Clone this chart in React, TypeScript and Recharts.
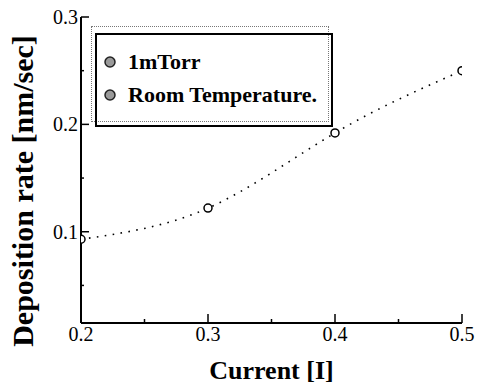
import {
  Legend,
  Line,
  LineChart,
  XAxis,
  YAxis,
} from "recharts";

const currents = [0.2, 0.3, 0.4, 0.5];
const depositionRates = [0.093, 0.122, 0.192, 0.25];

const xTicks = [0.2, 0.25, 0.3, 0.35, 0.4, 0.45, 0.5];
const xTickLabels = ["0.2", "0.3", "0.4", "0.5"];
const yTicks = [0.05, 0.1, 0.15, 0.2, 0.25, 0.3];
const yTickLabels = ["0.1", "0.2", "0.3"];

const legendItems = ["1mTorr", "Room Temperature."];

const FONT = "'Liberation Serif', 'Times New Roman', 'DejaVu Serif', serif";

const datos = currents.map((current, i) => ({
  current,
  rate: depositionRates[i],
}));

const labelFor = (value: number, labels: string[]) =>
  labels.find((l) => Math.abs(parseFloat(l) - value) < 1e-6);

const tickText = { fontFamily: FONT, fontSize: 20, fill: "#000" };

const BottomTick = ({ x, y, payload }: any) => {
  const label = labelFor(payload.value, xTickLabels);
  return (
    <g>
      <line x1={x} y1={y} x2={x} y2={y - (label ? 9 : 4)} stroke="#000" strokeWidth={1.5} />
      {label && (
        <text x={x} y={y + 4} dy="0.71em" textAnchor="middle" style={tickText}>
          {label}
        </text>
      )}
    </g>
  );
};

const TopTick = ({ x, y, payload }: any) => {
  const label = labelFor(payload.value, xTickLabels);
  return <line x1={x} y1={y} x2={x} y2={y + (label ? 9 : 4)} stroke="#000" strokeWidth={1.5} />;
};

const LeftTick = ({ x, y, payload }: any) => {
  const label = labelFor(payload.value, yTickLabels);
  return (
    <g>
      <line x1={x} y1={y} x2={x + (label ? 8 : 3)} y2={y} stroke="#000" strokeWidth={1.5} />
      {label && (
        <text x={x - 3} y={y} dy="0.35em" textAnchor="end" style={tickText}>
          {label}
        </text>
      )}
    </g>
  );
};

const RightTick = ({ x, y, payload }: any) => {
  const label = labelFor(payload.value, yTickLabels);
  return <line x1={x} y1={y} x2={x - (label ? 8 : 3)} y2={y} stroke="#000" strokeWidth={1.5} />;
};

const YLabel = ({ viewBox }: any) => {
  const cx = viewBox.x + 33;
  const cy = viewBox.y + viewBox.height / 2 + 21;
  return (
    <text
      x={cx}
      y={cy}
      transform={`rotate(-90, ${cx}, ${cy})`}
      textAnchor="middle"
      style={{ fontFamily: FONT, fontSize: 30, fontWeight: "bold", fill: "#000" }}
    >
      Deposition rate [nm/sec]
    </text>
  );
};

const XLabel = ({ viewBox }: any) => {
  const cx = viewBox.x + viewBox.width / 2;
  const cy = viewBox.y + viewBox.height - 12;
  return (
    <text
      x={cx}
      y={cy}
      textAnchor="middle"
      style={{ fontFamily: FONT, fontSize: 26, fontWeight: "bold", fill: "#000" }}
    >
      Current [I]
    </text>
  );
};

const CajaLeyenda = () => (
  <div style={{ position: "relative", width: 242, height: 101, fontFamily: FONT }}>
    <div
      style={{
        position: "absolute",
        left: 0,
        top: 0,
        width: 236,
        height: 94,
        border: "1px dotted #777",
        background: "#fff",
      }}
    />
    <div
      style={{
        position: "absolute",
        left: 4,
        top: 7,
        width: 234,
        height: 90,
        border: "2.5px solid #000",
      }}
    />
    {legendItems.map((item, i) => (
      <div
        key={item}
        style={{
          position: "absolute",
          left: 12,
          top: 24 + i * 33,
          height: 24,
          display: "flex",
          alignItems: "center",
          whiteSpace: "nowrap",
        }}
      >
        <svg width={14} height={14} style={{ marginRight: 11 }}>
          <circle cx={7} cy={7} r={5} fill="#9a9a9a" stroke="#222" strokeWidth={1.5} />
        </svg>
        <span style={{ fontSize: 22, fontWeight: "bold", color: "#000" }}>{item}</span>
      </div>
    ))}
  </div>
);

export default function App() {
  return (
    <div style={{ position: "absolute", left: 0, top: 0, background: "#fff" }}>
      <LineChart
        width={484}
        height={391}
        data={datos}
        margin={{ top: 17, right: 22, bottom: 0, left: 0 }}
      >
        <XAxis
          dataKey="current"
          type="number"
          domain={[0.2, 0.5]}
          ticks={xTicks}
          interval={0}
          height={68}
          tickSize={0}
          tickMargin={0}
          tickLine={false}
          axisLine={{ stroke: "#000", strokeWidth: 2 }}
          tick={<BottomTick />}
          allowDataOverflow
          label={<XLabel />}
        />
        <XAxis
          xAxisId="top"
          orientation="top"
          dataKey="current"
          type="number"
          domain={[0.2, 0.5]}
          ticks={xTicks}
          interval={0}
          height={0}
          tickSize={0}
          tickMargin={0}
          tickLine={false}
          axisLine={{ stroke: "#000", strokeWidth: 2 }}
          tick={<TopTick />}
          allowDataOverflow
        />
        <YAxis
          type="number"
          domain={[0.015, 0.3]}
          ticks={yTicks}
          interval={0}
          width={81}
          tickSize={0}
          tickMargin={0}
          tickLine={false}
          axisLine={{ stroke: "#000", strokeWidth: 2 }}
          tick={<LeftTick />}
          allowDataOverflow
          label={<YLabel />}
        />
        <YAxis
          yAxisId="right"
          orientation="right"
          type="number"
          domain={[0.015, 0.3]}
          ticks={yTicks}
          interval={0}
          width={0}
          tickSize={0}
          tickMargin={0}
          tickLine={false}
          axisLine={{ stroke: "#333", strokeWidth: 2 }}
          tick={<RightTick />}
          allowDataOverflow
        />
        <Legend
          layout="vertical"
          align="center"
          verticalAlign="middle"
          wrapperStyle={{ position: "absolute", left: 91, top: 26, width: 242, height: 101 }}
          content={<CajaLeyenda />}
        />
        <Line
          type="natural"
          dataKey="rate"
          stroke="#000"
          strokeWidth={1.6}
          strokeDasharray="1.6 6.4"
          dot={{ r: 4, fill: "#fff", stroke: "#000", strokeWidth: 1.5, strokeDasharray: "0" }}
          isAnimationActive={false}
        />
      </LineChart>
    </div>
  );
}
